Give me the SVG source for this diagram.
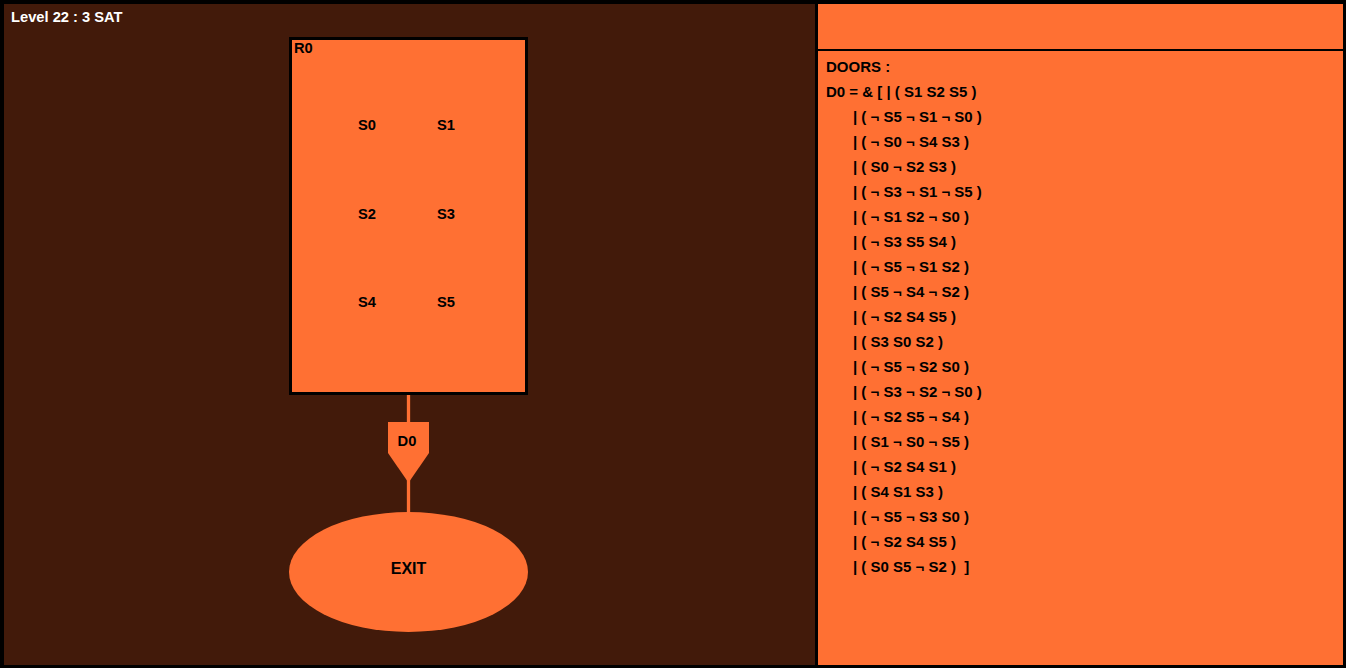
<svg xmlns="http://www.w3.org/2000/svg" width="1346" height="668" viewBox="0 0 1346 668">
<style>
text{font-family:"Liberation Sans",Arial,sans-serif;font-weight:bold;fill:#000}
.lvl{fill:#fff;font-size:14.7px}
.lbl{font-size:14.7px;text-anchor:middle}
.doors{font-size:15px;white-space:pre}
.wire{stroke:#ff7033;stroke-width:3.3;fill:none}
.org{fill:#ff7033}
</style>
<rect x="0" y="0" width="1346" height="668" fill="#000"/>
<rect x="4" y="4" width="811" height="661" fill="#421a0a"/>
<rect x="818" y="4" width="525" height="45" class="org"/>
<rect x="818" y="51" width="525" height="614" class="org"/>
<text x="11" y="21.5" class="lvl">Level 22 : 3 SAT</text>
<g id="connectors">
<line class="wire" x1="408.5" y1="394" x2="408.5" y2="423"/>
<line class="wire" x1="408.5" y1="478" x2="408.5" y2="513"/>
</g>
<g id="R0">
<rect x="290.5" y="38.5" width="236" height="355" fill="#ff7033" stroke="#000" stroke-width="3"/>
<text x="294" y="53.3" style="font-size:14.7px">R0</text>
<text x="367" y="130" class="lbl">S0</text>
<text x="446" y="130" class="lbl">S1</text>
<text x="367" y="218.5" class="lbl">S2</text>
<text x="446" y="218.5" class="lbl">S3</text>
<text x="367" y="307" class="lbl">S4</text>
<text x="446" y="307" class="lbl">S5</text>
</g>
<g id="D0">
<polygon class="org" points="388,422 429,422 429,453 409,482 408,482 388,453"/>
<text x="407" y="445.5" class="lbl">D0</text>
</g>
<g id="EXIT">
<ellipse cx="408.5" cy="572" rx="119.5" ry="60" class="org"/>
<text x="408.5" y="574" class="lbl" style="font-size:16px">EXIT</text>
</g>
<g id="doors-panel" class="doors">
<text x="826" y="72" class="doors">DOORS :</text>
<text x="826" y="97" class="doors">D0 = &amp; [ | ( S1 S2 S5 )</text>
<text x="853" y="122" class="doors">| ( ¬ S5 ¬ S1 ¬ S0 )</text>
<text x="853" y="147" class="doors">| ( ¬ S0 ¬ S4 S3 )</text>
<text x="853" y="172" class="doors">| ( S0 ¬ S2 S3 )</text>
<text x="853" y="197" class="doors">| ( ¬ S3 ¬ S1 ¬ S5 )</text>
<text x="853" y="222" class="doors">| ( ¬ S1 S2 ¬ S0 )</text>
<text x="853" y="247" class="doors">| ( ¬ S3 S5 S4 )</text>
<text x="853" y="272" class="doors">| ( ¬ S5 ¬ S1 S2 )</text>
<text x="853" y="297" class="doors">| ( S5 ¬ S4 ¬ S2 )</text>
<text x="853" y="322" class="doors">| ( ¬ S2 S4 S5 )</text>
<text x="853" y="347" class="doors">| ( S3 S0 S2 )</text>
<text x="853" y="372" class="doors">| ( ¬ S5 ¬ S2 S0 )</text>
<text x="853" y="397" class="doors">| ( ¬ S3 ¬ S2 ¬ S0 )</text>
<text x="853" y="422" class="doors">| ( ¬ S2 S5 ¬ S4 )</text>
<text x="853" y="447" class="doors">| ( S1 ¬ S0 ¬ S5 )</text>
<text x="853" y="472" class="doors">| ( ¬ S2 S4 S1 )</text>
<text x="853" y="497" class="doors">| ( S4 S1 S3 )</text>
<text x="853" y="522" class="doors">| ( ¬ S5 ¬ S3 S0 )</text>
<text x="853" y="547" class="doors">| ( ¬ S2 S4 S5 )</text>
<text x="853" y="572" class="doors">| ( S0 S5 ¬ S2 )  ]</text>
</g>
</svg>
